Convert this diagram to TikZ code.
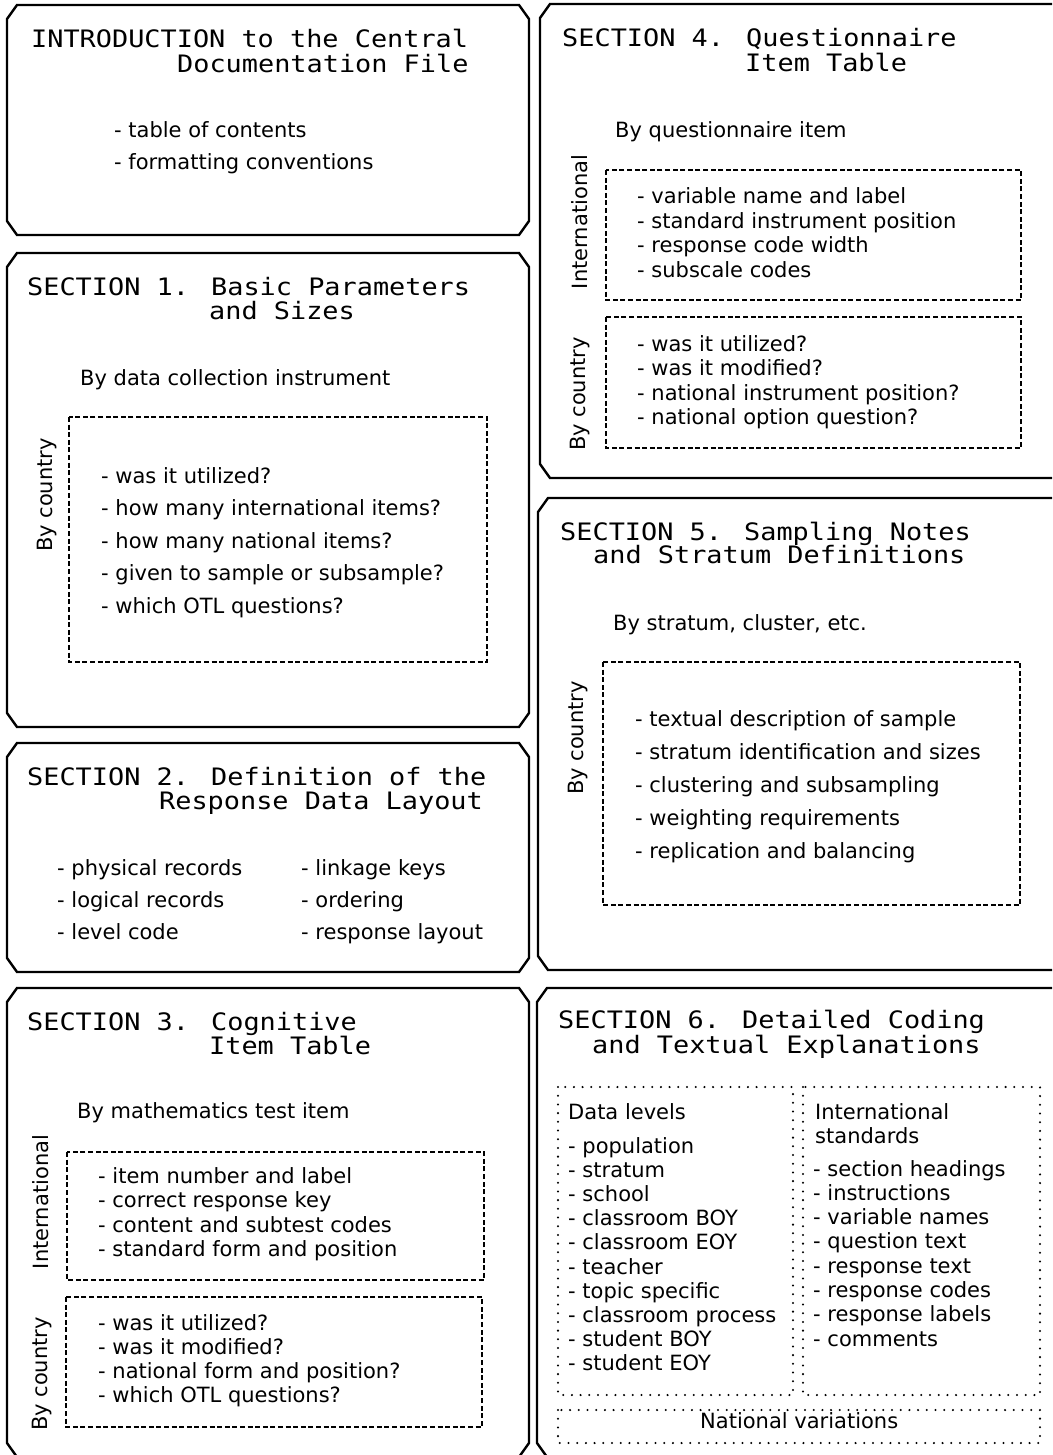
\documentclass[tikz,border=0pt]{standalone}
\usepackage{fontspec}
\newfontfamily\headfont[FakeStretch=1.12]{DejaVu Sans Mono}
\newfontfamily\bodyfont{DejaVu Sans}

% chamfered panel: x1, y1, x2, y2 (y grows downwards)
\newcommand\docpanel[4]{%
  \draw[panel] ({#1+10},#2) -- ({#3-10},#2) -- (#3,{#2+14}) -- (#3,{#4-14})
    -- ({#3-10},#4) -- ({#1+10},#4) -- (#1,{#4-14}) -- (#1,{#2+14}) -- cycle;}
% gap between the section number and its title
\newcommand\secgap{\ \hspace{6pt}}

\tikzset{
  panel/.style={line width=2.4pt, line join=miter},
  dbox/.style={line width=1.6pt, dash pattern=on 5pt off 2.6pt},
  dotbox/.style={line width=2.3pt, line cap=round, dash pattern=on 0pt off 8.7pt},
  head/.style={font=\headfont\fontsize{24}{28}\selectfont, anchor=base west, inner sep=0pt},
  body/.style={font=\bodyfont\fontsize{21}{25}\selectfont, anchor=base west, inner sep=0pt},
  side/.style={font=\bodyfont\fontsize{21}{25}\selectfont, anchor=base, inner sep=0pt, rotate=90},
}

\begin{document}
\begin{tikzpicture}[x=1pt, y=-1pt]
\useasboundingbox (0,0) rectangle (1052,1455);
\fill[white] (0,0) rectangle (1052,1455);
\clip (0,0) rectangle (1052,1455);

% ---------- panels ----------
\docpanel{7}{5}{529}{235}
\docpanel{7}{253}{529}{727}
\docpanel{7}{743}{529}{972}
\docpanel{7}{988}{529}{1457}
\docpanel{540}{4}{1066}{478}
\docpanel{538}{498}{1066}{970}
\docpanel{537}{988}{1066}{1457}

% ---------- Introduction ----------
\node[head] (t0a) at (31,48) {INTRODUCTION to the Central};
\node[head] (t0b) at (177,73) {Documentation File};
\node[body] (i0a) at (114,138) {- table of contents};
\node[body] (i0b) at (114,170) {- formatting conventions};

% ---------- Section 1 ----------
\node[head] (t1a) at (27,295) {SECTION 1.\secgap Basic Parameters};
\node[head] (t1b) at (209,319) {and Sizes};
\node[body] (b1) at (80,385) {By data collection instrument};
\draw[dbox] (69,417) rectangle (487,662);
\node[side] (c1) at (52,495) {By country};
\foreach \txt [count=\i] in {was it utilized?, how many international items?,
    how many national items?, given to sample or subsample?, which OTL questions?}
  \node[body] (s1i\i) at (101,{483.5+32.4*(\i-1)}) {- \txt};

% ---------- Section 2 ----------
\node[head] (t2a) at (27,785) {SECTION 2.\secgap Definition of the};
\node[head] (t2b) at (159,809) {Response Data Layout};
\foreach \txt [count=\i] in {physical records, logical records, level code}
  \node[body] (s2l\i) at (57,{875+32.2*(\i-1)}) {- \txt};
\foreach \txt [count=\i] in {linkage keys, ordering, response layout}
  \node[body] (s2r\i) at (301,{875+32.2*(\i-1)}) {- \txt};

% ---------- Section 3 ----------
\node[head] (t3a) at (27,1030) {SECTION 3.\secgap Cognitive};
\node[head] (t3b) at (209,1054) {Item Table};
\node[body] (b3) at (77,1118) {By mathematics test item};
\draw[dbox] (67,1152) rectangle (484,1280);
\draw[dbox] (66,1297) rectangle (482,1427);
\node[side] (n3) at (48,1202) {International};
\node[side] (c3) at (47,1374) {By country};
\foreach \txt [count=\i] in {item number and label, correct response key,
    content and subtest codes, standard form and position}
  \node[body] (s3a\i) at (98,{1183.5+24.4*(\i-1)}) {- \txt};
\foreach \txt [count=\i] in {was it utilized?, was it modified?,
    national form and position?, which OTL questions?}
  \node[body] (s3b\i) at (98,{1330+24.3*(\i-1)}) {- \txt};

% ---------- Section 4 ----------
\node[head] (t4a) at (562,46.5) {SECTION 4.\secgap Questionnaire};
\node[head] (t4b) at (745,71.5) {Item Table};
\node[body] (b4) at (615,138) {By questionnaire item};
\draw[dbox] (606,170) rectangle (1021,300);
\draw[dbox] (606,317) rectangle (1021,448);
\node[side] (n4) at (587,222) {International};
\node[side] (c4) at (585,394) {By country};
\foreach \txt [count=\i] in {variable name and label, standard instrument position,
    response code width, subscale codes}
  \node[body] (s4a\i) at (637,{204+24.4*(\i-1)}) {- \txt};
\foreach \txt [count=\i] in {was it utilized?, was it modified?,
    national instrument position?, national option question?}
  \node[body] (s4b\i) at (637,{351.5+24.4*(\i-1)}) {- \txt};

% ---------- Section 5 ----------
\node[head] (t5a) at (560,540) {SECTION 5.\secgap Sampling Notes};
\node[head] (t5b) at (593,563.5) {and Stratum Definitions};
\node[body] (b5) at (613,630) {By stratum, cluster, etc.};
\draw[dbox] (603,662) rectangle (1020,905);
\node[side] (c5) at (583,738) {By country};
\foreach \txt [count=\i] in {textual description of sample,
    stratum identification and sizes, clustering and subsampling,
    weighting requirements, replication and balancing}
  \node[body] (s5\i) at (635,{726.7+32.9*(\i-1)}) {- \txt};

% ---------- Section 6 ----------
\node[head] (t6a) at (558,1028.5) {SECTION 6.\secgap Detailed Coding};
\node[head] (t6b) at (592,1053.5) {and Textual Explanations};
\draw[dotbox] (558,1087) rectangle (793,1395);
\draw[dotbox] (803,1087) rectangle (1040,1395);
\draw[dotbox] (558,1410) rectangle (1040,1443);
\node[body] (h6l) at (568,1119.5) {Data levels};
\node[body] (h6r) at (815,1119.5) {International};
\node[body] (h6r2) at (815,1143) {standards};
\foreach \txt [count=\i] in {population, stratum, school, classroom BOY,
    classroom EOY, teacher, topic specific, classroom process,
    student BOY, student EOY}
  \node[body] (s6l\i) at (568,{1153.3+24.15*(\i-1)}) {- \txt};
\foreach \txt [count=\i] in {section headings, instructions, variable names,
    question text, response text, response codes, response labels, comments}
  \node[body] (s6r\i) at (813,{1176+24.3*(\i-1)}) {- \txt};
\node[body] (nv) at (700,1428.5) {National variations};
\end{tikzpicture}
\end{document}
